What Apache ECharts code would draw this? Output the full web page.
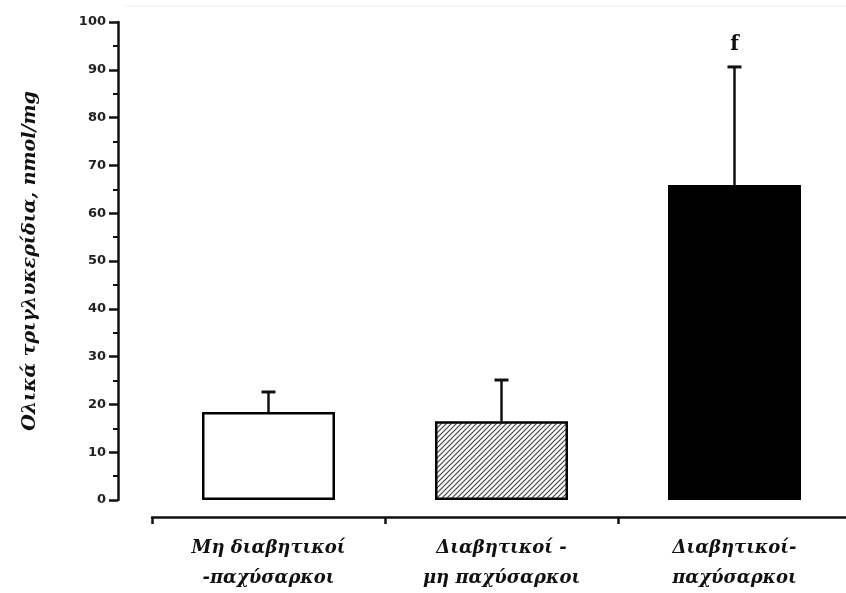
<!DOCTYPE html>
<html>
<head>
<meta charset="utf-8">
<script src="https://cdn.jsdelivr.net/npm/echarts@6/dist/echarts.min.js"></script>
<style>
  html, body { margin: 0; padding: 0; background: #ffffff; }
  #chart { width: 846px; height: 593px; }
</style>
</head>
<body>
<div id="chart"></div>
<script>
// Group labels (two lines each)
const categories = [
  'Μη διαβητικοί\n-παχύσαρκοι',
  'Διαβητικοί -\nμη παχύσαρκοι',
  'Διαβητικοί-\nπαχύσαρκοι'
];
// Mean total triglycerides (nmol/mg) and the error (SEM) above each mean
const means = [18.4, 16.5, 65.9];
const errors = [4.2, 8.6, 24.7];
// Significance marks written above the error bars
const marks = ['', '', 'f'];
const yTicks = { min: 0, max: 100, step: 10 };
const yTitle = 'Ολικά τριγλυκερίδια, nmol/mg';

const serif = '"DejaVu Serif", "Liberation Serif", serif';

// Diagonal hatch pattern for the second group
function hatchPattern() {
  const s = 5;
  const c = document.createElement('canvas');
  c.width = s; c.height = s;
  const g = c.getContext('2d');
  g.fillStyle = '#ffffff';
  g.fillRect(0, 0, s, s);
  g.strokeStyle = '#444444';
  g.lineWidth = 1.2;
  g.beginPath();
  g.moveTo(-1, s + 1); g.lineTo(s + 1, -1);
  g.moveTo(-1, 1); g.lineTo(1, -1);
  g.moveTo(s - 1, s + 1); g.lineTo(s + 1, s - 1);
  g.stroke();
  return c;
}

const fills = ['#ffffff', { image: hatchPattern(), repeat: 'repeat' }, '#000000'];

const chart = echarts.init(document.getElementById('chart'), null, { renderer: 'canvas' });

chart.setOption({
  backgroundColor: '#ffffff',
  animation: false,
  grid: { left: 152, right: -5, top: 22, bottom: 93, containLabel: false, outerBoundsMode: 'none' },
  graphic: [{
    type: 'line',
    shape: { x1: 124, y1: 6, x2: 846, y2: 6 },
    style: { stroke: '#eeeeee', lineWidth: 1 }
  }],
  xAxis: {
    type: 'category',
    data: categories,
    offset: 17,
    axisLine: { show: true, onZero: false, lineStyle: { color: '#111', width: 2.5 } },
    axisTick: { show: true, alignWithLabel: false, length: 7, lineStyle: { color: '#111', width: 2.5 } },
    axisLabel: {
      margin: 16,
      color: '#111',
      fontFamily: serif,
      fontStyle: 'italic',
      fontWeight: 'bold',
      fontSize: 18,
      lineHeight: 30
    },
    splitLine: { show: false }
  },
  yAxis: {
    type: 'value',
    min: yTicks.min,
    max: yTicks.max,
    interval: yTicks.step,
    offset: 34,
    name: yTitle,
    nameLocation: 'middle',
    nameGap: 78,
    nameTextStyle: {
      color: '#111',
      fontFamily: serif,
      fontStyle: 'italic',
      fontWeight: 'bold',
      fontSize: 19
    },
    axisLine: { show: true, lineStyle: { color: '#111', width: 2.5 } },
    axisTick: { show: true, length: 9, lineStyle: { color: '#111', width: 2.5 } },
    minorTick: { show: true, splitNumber: 2, length: 5, lineStyle: { color: '#111', width: 2 } },
    axisLabel: {
      margin: 12,
      color: '#222',
      fontFamily: '"DejaVu Sans", "Liberation Sans", sans-serif',
      fontWeight: 'bold',
      fontSize: 13
    },
    splitLine: { show: false }
  },
  series: [
    {
      type: 'bar',
      barWidth: 133,
      data: means.map((v, i) => ({
        value: v,
        itemStyle: { color: fills[i], borderColor: '#000', borderWidth: 2.5 }
      }))
    },
    {
      type: 'custom',
      z: 3,
      data: means.map((v, i) => [i, v, v + errors[i]]),
      renderItem: function (params, api) {
        const i = api.value(0);
        const base = api.coord([i, api.value(1)]);
        const top = api.coord([i, api.value(2)]);
        const half = 7;
        const children = [
          {
            type: 'line',
            shape: { x1: base[0], y1: base[1], x2: top[0], y2: top[1] },
            style: { stroke: '#111', lineWidth: 2.5 }
          },
          {
            type: 'line',
            shape: { x1: top[0] - half, y1: top[1], x2: top[0] + half, y2: top[1] },
            style: { stroke: '#111', lineWidth: 3 }
          }
        ];
        const mark = marks[params.dataIndex];
        if (mark) {
          children.push({
            type: 'text',
            style: {
              text: mark,
              x: top[0],
              y: top[1] - 12,
              textAlign: 'center',
              textVerticalAlign: 'bottom',
              fill: '#111',
              font: 'bold 20px ' + serif
            }
          });
        }
        return { type: 'group', children: children };
      }
    }
  ]
});
</script>
</body>
</html>
